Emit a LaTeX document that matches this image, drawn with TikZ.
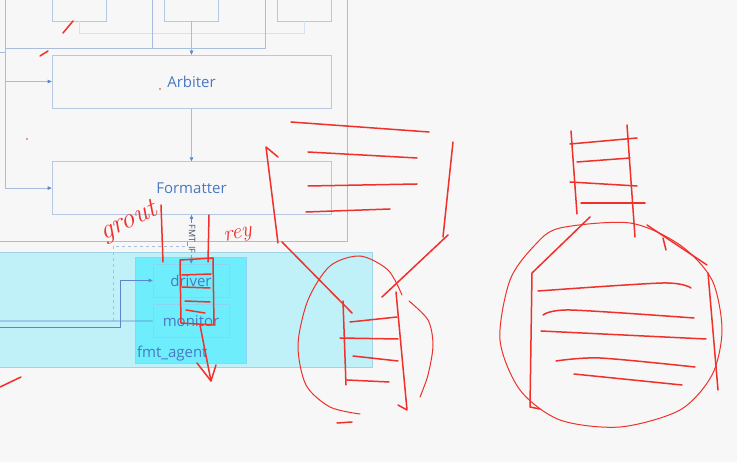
\documentclass[tikz,border=0pt]{standalone}
\usepackage{fontspec}
\setsansfont{Open Sans}
\usetikzlibrary{arrows.meta,positioning}

\definecolor{pagebg}{HTML}{F7F7F7}
\definecolor{boxline}{HTML}{B7C8E2}
\definecolor{wirecol}{HTML}{A8BEDC}
\definecolor{wirelite}{HTML}{D6E1F1}
\definecolor{labelblue}{HTML}{4A78C2}
\definecolor{arrowblue}{HTML}{5A88CC}
\definecolor{bandfill}{HTML}{C0F1F9}
\definecolor{bandline}{HTML}{A2D2E6}
\definecolor{agentfill}{HTML}{6EEEFC}
\definecolor{agentline}{HTML}{8ED4EE}
\definecolor{slate}{HTML}{44546A}
\definecolor{inkred}{HTML}{F0302A}

\begin{document}
\begin{tikzpicture}[
  x=1pt,y=-1pt,
  font=\sffamily,
  >={Triangle[length=4pt,width=3.5pt,color=arrowblue]},
  blk/.style={draw=boxline,line width=0.6pt,fill=pagebg,minimum width=279pt,
              minimum height=53pt,text=labelblue,font=\sffamily\fontsize{15}{17}\selectfont},
  topblk/.style={draw=boxline,line width=0.6pt,fill=pagebg,minimum width=54pt,minimum height=42pt},
  sub/.style={draw=agentline,line width=0.6pt,minimum width=76pt,minimum height=33pt,
              text=labelblue,font=\sffamily\fontsize{15}{17}\selectfont},
  wire/.style={draw=wirecol,line width=0.6pt},
  feed/.style={draw=arrowblue,line width=0.7pt},
  ink/.style={draw=inkred,line width=1.5pt,line cap=round,line join=round},
  thinink/.style={ink,line width=1pt},
  hand/.style={text=inkred,font=\itshape\fontsize{28}{28}\selectfont,inner sep=0pt}
]

\fill[pagebg] (0,0) rectangle (737,462);
\useasboundingbox (0,0) rectangle (737,462);
\clip (0,0) rectangle (737,462);

% enclosing block, top and left edges lie outside the view
\draw[wire] (-10,-10) rectangle (347,241);

% upper sources
\node[topblk] (src1) at (79,0) {};
\node[topblk] (src2) at (191.5,0) {};
\node[topblk] (src3) at (304,0) {};

\node[blk] (arbiter) at (191.5,81.5) {Arbiter};
\node[blk,below=53pt of arbiter] (formatter) {Formatter};

\coordinate (inL) at (5,0);
\coordinate (inA) at (152,0);
\coordinate (inB) at (265,0);
\coordinate (stub) at (0,52);
\coordinate (jn) at (5,48);

\draw[wirelite] (src1.south) -- ++(0,12) -| (src3.south);
\draw[wire] (inB) |- (jn);
\draw[wire] (inA) -- (inA |- jn);
\draw[wire] (inL) -- (jn);
\draw[wire] (stub) -- (inL |- stub);
\draw[wire,->] (jn) |- (arbiter.west);
\draw[wire,->] (jn) |- (formatter.west);
\draw[wire,->] (src2) -- (arbiter);
\draw[wire,->] (arbiter) -- (formatter);

% agent band
\node[draw=bandline,fill=bandfill,minimum width=377pt,minimum height=115pt] (band) at (183.5,309.5) {};
\node[draw=agentline,fill=agentfill,minimum width=111pt,minimum height=106pt] (agent) at (190.5,310) {};
\node[anchor=south west,text=labelblue,font=\sffamily\fontsize{15}{17}\selectfont,
      inner sep=2pt] at (agent.south west) {fmt\_agent};
\node[sub] (driver) at (191,280.5) {driver};
\node[sub,below=7pt of driver] (monitor) {monitor};

\node[rotate=-90,text=slate,font=\sffamily\fontsize{9}{10}\selectfont,inner sep=1.5pt] (fmtif) at (191.5,239) {FMT\_IF};
\draw[feed,->] (fmtif) -- (formatter);
\draw[feed,->] (fmtif) -- (driver);

\coordinate (inDrv) at (0,327);
\coordinate (inMon) at (0,321);
\coordinate (dsh) at (113,321);
\coordinate (dshEnd) at (186,246);
\draw[wire,dashed,line width=0.5pt] (dsh) |- (dshEnd);
\draw[feed,->] (inDrv) -- (120,327) |- (driver.west);
\draw[feed] (inMon) -- (monitor.west);

% red markup
\draw[ink] (73,21) -- (63,33);
\draw[ink] (48,51) -- (40,56);
\fill[inkred] (160,89) circle (0.9);
\fill[inkred] (27,139) circle (0.9);
\draw[ink] (0,387) -- (21,377);

\node[hand,rotate=25] (grout) at (129,222) {grout};
\draw[ink] (161,205) -- (163,262);
\node[hand,rotate=10,font=\itshape\fontsize{22}{22}\selectfont] (rey) at (238,236) {rey};
\draw[ink] (209,215) -- (208,262);

\draw[ink] (180,260) -- (213,258) -- (214,325) -- (181,323) -- cycle;
\draw[ink] (182,275) -- (211,274);
\draw[ink] (182,287) -- (210,288);
\draw[ink] (185,301) -- (210,302);
\draw[ink] (186,310) -- (205,313);
\draw[ink] (200,325) -- (211,381);
\draw[ink] (197,363) -- (211,381) -- (216,365);

\draw[ink] (291,122) -- (429,132);
\draw[ink] (308,152) -- (417,158);
\draw[ink] (308,186) -- (417,184);
\draw[ink] (306,212) -- (390,209);
\draw[ink] (278,157) -- (266,147) -- (278,243);
\draw[ink] (453,142) -- (443,237);
\draw[ink] (448,235) -- (382,297);
\draw[ink] (282,242) -- (352,313);
\draw[thinink] plot[smooth] coordinates {(402,295) (388,270) (360,256) (330,266) (308,300) (298,345) (306,385) (330,407) (360,414)};
\draw[thinink] plot[smooth] coordinates {(409,301) (428,320) (433,345) (428,375) (420,397)};
\draw[ink] (343,301) -- (346,385);
\draw[ink] (396,292) -- (407,410) -- (398,405);
\draw[ink] (350,322) -- (397,317);
\draw[ink] (340,338) -- (398,339);
\draw[ink] (353,356) -- (398,361);
\draw[ink] (347,380) -- (389,382);
\draw[ink] (337,423) -- (352,422);

\draw[ink] (571,131) -- (577,214);
\draw[ink] (627,125) -- (635,237);
\draw[ink] (570,144) -- (637,138);
\draw[ink] (577,162) -- (630,158);
\draw[ink] (570,182) -- (637,186);
\draw[ink] (581,203) -- (645,203);
\draw[thinink] plot[smooth cycle] coordinates {(560,228) (630,223) (680,245) (712,280) (722,330) (712,375) (680,410) (620,427) (560,420) (520,390) (500,340) (510,280) (535,245)};
\draw[ink] (590,217) -- (532,273) -- (530,407) -- (540,409);
\draw[ink] (647,225) -- (707,265);
\draw[ink] (663,238) -- (666,250);
\draw[ink] (708,273) -- (718,390);
\draw[ink] plot[smooth] coordinates {(538,291) (663,283) (691,288)};
\draw[ink] plot[smooth] coordinates {(543,315) (570,310) (694,318)};
\draw[ink] (541,331) -- (706,339);
\draw[ink] plot[smooth] coordinates {(556,361) (600,358) (695,367)};
\draw[ink] (574,374) -- (682,385);

\end{tikzpicture}
\end{document}
